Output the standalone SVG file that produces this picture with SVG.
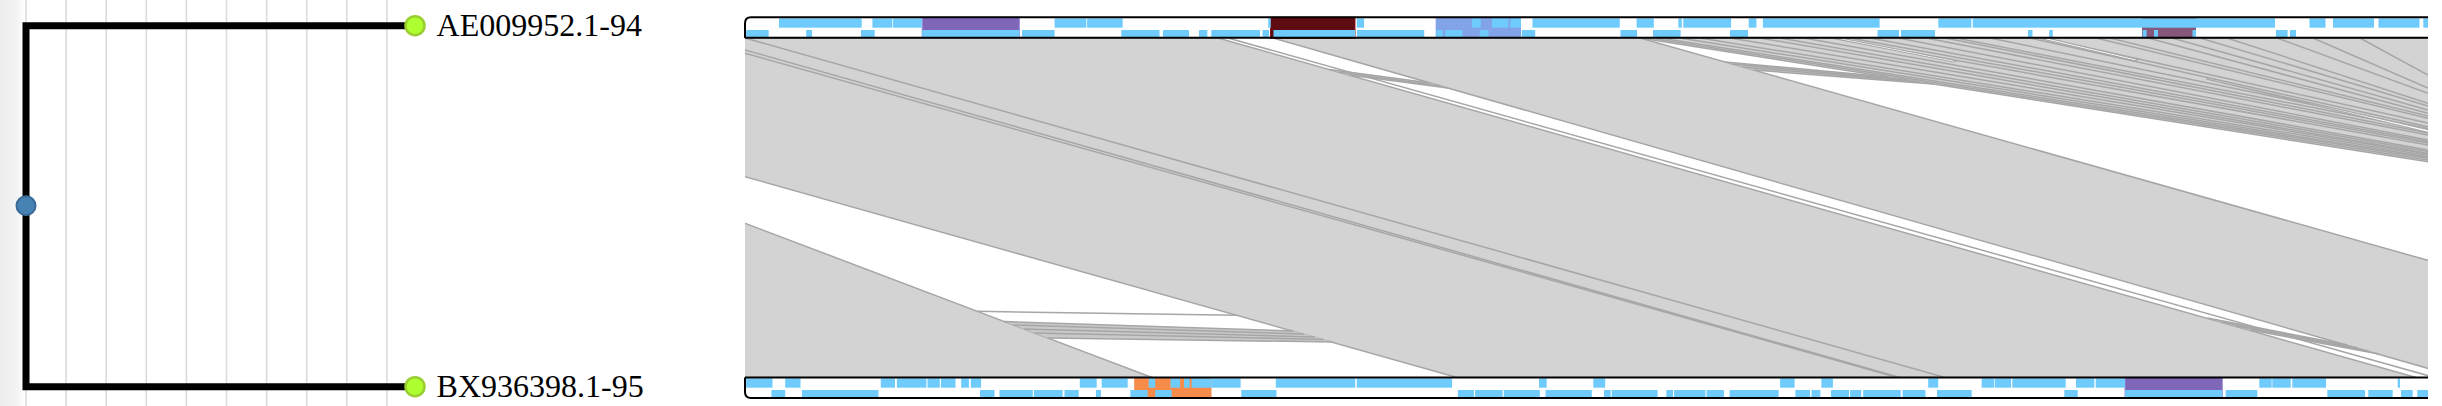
<svg xmlns="http://www.w3.org/2000/svg" width="2442" height="406" viewBox="0 0 2442 406">
<defs>
<style>
.grid{stroke:#dcdcdc;stroke-width:1.6}
.branch{fill:none;stroke:#000;stroke-width:7}
.leaf{fill:#adff2f;stroke:#9acd32;stroke-width:2.5}
.root{fill:#4682b4;stroke:#3a6b96;stroke-width:2}
.label{font-family:"Liberation Serif","Times New Roman",serif;font-size:32px;fill:#000}
.link{fill:#d3d3d3;stroke:#a6a6a6;stroke-width:1.5}
.fill{fill:#c9c9c9;stroke:none}
.edge{fill:none;stroke:#a6a6a6;stroke-width:1.5}
.gap{fill:#fff;stroke:#a6a6a6;stroke-width:1.2}
.gene{fill:#6ecbfc}
.track{fill:none;stroke:#000;stroke-width:2}
</style>
<linearGradient id="shade" x1="0" x2="1" y1="0" y2="0">
<stop offset="0" stop-color="#ececec"/><stop offset="0.75" stop-color="#f4f4f4"/><stop offset="1" stop-color="#ffffff"/>
</linearGradient>
<clipPath id="plot"><rect x="745" y="38" width="1683" height="339.5"/></clipPath>
</defs>
<rect x="0" y="0" width="2442" height="406" fill="#fff"/>
<g id="tree-grid">
<rect x="0" y="0" width="24" height="406" fill="url(#shade)"/>
<line class="grid" x1="26" y1="0" x2="26" y2="406"/>
<line class="grid" x1="66.1" y1="0" x2="66.1" y2="406"/>
<line class="grid" x1="106.2" y1="0" x2="106.2" y2="406"/>
<line class="grid" x1="146.3" y1="0" x2="146.3" y2="406"/>
<line class="grid" x1="186.4" y1="0" x2="186.4" y2="406"/>
<line class="grid" x1="226.5" y1="0" x2="226.5" y2="406"/>
<line class="grid" x1="266.6" y1="0" x2="266.6" y2="406"/>
<line class="grid" x1="306.7" y1="0" x2="306.7" y2="406"/>
<line class="grid" x1="346.8" y1="0" x2="346.8" y2="406"/>
<line class="grid" x1="386.9" y1="0" x2="386.9" y2="406"/>
</g>
<g id="connectors">
<path class="branch" d="M415,25.7 H26 V386.7 H415"/>
</g>
<g id="node-root"><circle class="root" cx="26" cy="205.7" r="9.5"/></g>
<g id="node-AE009952.1-94"><circle class="leaf" cx="415" cy="25.7" r="9.5"/><text class="label" x="436.6" y="35.5">AE009952.1-94</text></g>
<g id="node-BX936398.1-95"><circle class="leaf" cx="415" cy="386.7" r="9.5"/><text class="label" x="436.6" y="396.5">BX936398.1-95</text></g>

<g id="links" clip-path="url(#plot)">
<polygon class="link" points="-2000,38 256,38 1152,377.5 -1000,377.5"/>
<polygon class="link" points="253,38 1218,38 2416,377.5 1457,377.5"/>
<polygon class="link" points="1273,38 1640,38 2843,377.5 2460,377.5"/>
<polygon class="link" points="1640,38 2440,38 2440,163.6"/>
<line class="edge" x1="745" y1="38" x2="1945" y2="377.5"/>
<line class="edge" x1="703" y1="38" x2="1900" y2="377.5"/>
<line class="edge" x1="691" y1="38" x2="1897" y2="377.5"/>
<line class="edge" x1="1228" y1="38" x2="2434.7" y2="377.5"/>
<g id="fan">
<line class="edge" x1="1650" y1="38" x2="2428" y2="160"/>
<line class="edge" x1="1660" y1="38" x2="2428" y2="158.3"/>
<line class="edge" x1="1680" y1="38" x2="2428" y2="157"/>
<line class="edge" x1="1700" y1="38" x2="2428" y2="155.5"/>
<line class="edge" x1="1730" y1="38" x2="2428" y2="154"/>
<line class="edge" x1="1760" y1="38" x2="2428" y2="153.3"/>
<line class="edge" x1="1780" y1="38" x2="2428" y2="151.5"/>
<line class="edge" x1="1804" y1="38" x2="2428" y2="150"/>
<line class="edge" x1="1832" y1="38" x2="2428" y2="145"/>
<line class="edge" x1="1850" y1="38" x2="2428" y2="143"/>
<line class="edge" x1="1870" y1="38" x2="2428" y2="141.5"/>
<line class="edge" x1="1898" y1="38" x2="2428" y2="140"/>
<line class="edge" x1="1926" y1="38" x2="2428" y2="135"/>
<line class="edge" x1="1945" y1="38" x2="2428" y2="133"/>
<line class="edge" x1="1956" y1="38" x2="2428" y2="130"/>
<line class="edge" x1="1990" y1="38" x2="2428" y2="128.5"/>
<line class="edge" x1="2030" y1="38" x2="2428" y2="126.7"/>
<line class="edge" x1="2044" y1="38" x2="2428" y2="123"/>
<line class="edge" x1="2096" y1="38" x2="2428" y2="118.3"/>
<line class="edge" x1="2110" y1="38" x2="2428" y2="116"/>
<line class="edge" x1="2148" y1="38" x2="2428" y2="113.3"/>
<line class="edge" x1="2172" y1="38" x2="2428" y2="110"/>
<line class="edge" x1="2200" y1="38" x2="2428" y2="106"/>
<line class="edge" x1="2227" y1="38" x2="2428" y2="103.3"/>
<line class="edge" x1="2277" y1="38" x2="2428" y2="93.3"/>
<line class="edge" x1="2313" y1="38" x2="2428" y2="88"/>
<line class="edge" x1="2360" y1="38" x2="2428" y2="75"/>
<polygon class="gap" points="1834,38.5 1843,38.5 1957,61 1953,62"/>
<polygon class="gap" points="2040,38.5 2049,38.5 2138,59.5 2135,60.8"/>
<polygon class="gap" points="2206,79 2430,130 2430,132.8"/>
</g>
<g id="streaks">
<polygon class="fill" points="1004.2,321.5 1293.6,331 1332.7,342 1047.7,338"/>
<line class="edge" x1="977" y1="311.3" x2="1237" y2="315.2"/>
<line class="edge" x1="1004.2" y1="321.5" x2="1293.6" y2="331"/>
<line class="edge" x1="1013.4" y1="325" x2="1304.2" y2="334"/>
<line class="edge" x1="1024" y1="329" x2="1314.9" y2="337"/>
<line class="edge" x1="1034.5" y1="333" x2="1323.8" y2="339.5"/>
<line class="edge" x1="1047.7" y1="338" x2="1332.7" y2="342"/>
<polygon class="fill" points="1329.3,69.5 1430.5,83 1448,88 1348.8,75"/>
<line class="edge" x1="1329.3" y1="69.5" x2="1430.5" y2="83"/>
<line class="edge" x1="1338.2" y1="72" x2="1441" y2="86"/>
<line class="edge" x1="1348.8" y1="75" x2="1448" y2="88"/>
<polygon class="fill" points="1725,62 1888.4,77 1933,84 1753.4,70"/>
<line class="edge" x1="1725" y1="62" x2="1888.4" y2="77"/>
<line class="edge" x1="1732" y1="64" x2="1907.5" y2="80"/>
<line class="edge" x1="1742.7" y1="67" x2="1920" y2="82"/>
<line class="edge" x1="1753.4" y1="70" x2="1933" y2="84"/>
<polygon class="fill" points="2207.5,318 2347.5,345 2379,354 2250,330"/>
<line class="edge" x1="2207.5" y1="318" x2="2347.5" y2="345"/>
<line class="edge" x1="2221.7" y1="322" x2="2358" y2="348"/>
<line class="edge" x1="2235.8" y1="326" x2="2368.5" y2="351"/>
<line class="edge" x1="2250" y1="330" x2="2379" y2="354"/>
</g>
</g>

<g id="track-AE009952.1-94">
<rect x="922.2" y="17.3" width="97.2" height="21" fill="#7f66b9" stroke="#9c89d6" stroke-width="1"/>
<rect x="1270.5" y="17.3" width="84.5" height="21" fill="#5e0b11" stroke="#8a1a1a" stroke-width="1"/>
<rect x="1435.7" y="17.3" width="85.3" height="21" fill="#82a3e8"/>
<rect x="2142" y="17.3" width="54" height="21" fill="#87567b"/>
<rect class="gene" x="779" y="18.3" width="82.7" height="9.4"/>
<rect class="gene" x="872.4" y="18.3" width="19.9" height="9.4"/>
<rect class="gene" x="893.1" y="18.3" width="28.7" height="9.4"/>
<rect class="gene" x="1054.6" y="18.3" width="31.7" height="9.4"/>
<rect class="gene" x="1087.1" y="18.3" width="35.6" height="9.4"/>
<rect class="gene" x="1268.2" y="18.3" width="2.6" height="9.4"/>
<rect class="gene" x="1356.8" y="18.3" width="7.3" height="9.4"/>
<rect class="gene" x="1472" y="18.3" width="8.8" height="9.4"/>
<rect class="gene" x="1492" y="18.3" width="16.4" height="9.4"/>
<rect class="gene" x="1510.3" y="18.3" width="10.7" height="9.4"/>
<rect class="gene" x="1532.5" y="18.3" width="87.3" height="9.4"/>
<rect class="gene" x="1636.6" y="18.3" width="17.2" height="9.4"/>
<rect class="gene" x="1678.3" y="18.3" width="3.5" height="9.4"/>
<rect class="gene" x="1683.3" y="18.3" width="47.8" height="9.4"/>
<rect class="gene" x="1748.7" y="18.3" width="7.7" height="9.4"/>
<rect class="gene" x="1762.9" y="18.3" width="116.7" height="9.4"/>
<rect class="gene" x="1938.3" y="18.3" width="33.1" height="9.4"/>
<rect class="gene" x="1972.8" y="18.3" width="302.2" height="9.4"/>
<rect class="gene" x="2309.5" y="18.3" width="16" height="9.4"/>
<rect class="gene" x="2333" y="18.3" width="41" height="9.4"/>
<rect class="gene" x="2378.5" y="18.3" width="41" height="9.4"/>
<rect class="gene" x="2423.3" y="18.3" width="4.7" height="9.4"/>
<rect class="gene" x="746.1" y="30" width="22.6" height="7.3"/>
<rect class="gene" x="806.2" y="30" width="5.8" height="7.3"/>
<rect class="gene" x="861" y="30" width="13.7" height="7.3"/>
<rect class="gene" x="922.2" y="30" width="97.2" height="7.3"/>
<rect class="gene" x="1022" y="30" width="32.6" height="7.3"/>
<rect class="gene" x="1121.3" y="30" width="38.2" height="7.3"/>
<rect class="gene" x="1163" y="30" width="26" height="7.3"/>
<rect class="gene" x="1199" y="30" width="8.3" height="7.3"/>
<rect class="gene" x="1211.3" y="30" width="48.7" height="7.3"/>
<rect class="gene" x="1262.5" y="30" width="6.6" height="7.3"/>
<rect class="gene" x="1273.5" y="30" width="81.5" height="7.3"/>
<rect class="gene" x="1357" y="30" width="67.2" height="7.3"/>
<rect class="gene" x="1436.4" y="30" width="6.2" height="7.3"/>
<rect class="gene" x="1445.2" y="30" width="17.3" height="7.3"/>
<rect class="gene" x="1479.7" y="30" width="8.8" height="7.3"/>
<rect class="gene" x="1521.8" y="30" width="13.4" height="7.3"/>
<rect class="gene" x="1620.5" y="30" width="16.5" height="7.3"/>
<rect class="gene" x="1653" y="30" width="27.6" height="7.3"/>
<rect class="gene" x="1730" y="30" width="18" height="7.3"/>
<rect class="gene" x="1877.5" y="30" width="21.5" height="7.3"/>
<rect class="gene" x="1901" y="30" width="34" height="7.3"/>
<rect class="gene" x="2028" y="30" width="4.5" height="7.3"/>
<rect class="gene" x="2049.2" y="30" width="3.6" height="7.3"/>
<rect class="gene" x="2142.7" y="30" width="3.9" height="7.3"/>
<rect class="gene" x="2154" y="30" width="4" height="7.3"/>
<rect class="gene" x="2192.5" y="30" width="3.5" height="7.3"/>
<rect class="gene" x="2276" y="30" width="11.6" height="7.3"/>
<rect class="gene" x="2290" y="30" width="6" height="7.3"/>
<path class="track" d="M745,38 V23.3 Q745,17.3 751,17.3 H2428"/>
<path class="track" d="M745,37.8 H2428"/>
</g>

<g id="track-BX936398.1-95">
<rect x="1134.2" y="377.3" width="77.3" height="21" fill="#f78c4a"/>
<rect x="2125" y="377.3" width="97.3" height="21" fill="#7f66b9" stroke="#9c89d6" stroke-width="1"/>
<rect class="gene" x="746.1" y="378.3" width="26.4" height="9.4"/>
<rect class="gene" x="785.2" y="378.3" width="15.3" height="9.4"/>
<rect class="gene" x="880.8" y="378.3" width="14.2" height="9.4"/>
<rect class="gene" x="896.9" y="378.3" width="29.5" height="9.4"/>
<rect class="gene" x="927.5" y="378.3" width="12.3" height="9.4"/>
<rect class="gene" x="941" y="378.3" width="14.5" height="9.4"/>
<rect class="gene" x="961.2" y="378.3" width="7.7" height="9.4"/>
<rect class="gene" x="970.8" y="378.3" width="10.3" height="9.4"/>
<rect class="gene" x="1079.8" y="378.3" width="16.9" height="9.4"/>
<rect class="gene" x="1101.7" y="378.3" width="26" height="9.4"/>
<rect class="gene" x="1148.7" y="378.3" width="6.5" height="9.4"/>
<rect class="gene" x="1170.5" y="378.3" width="9.6" height="9.4"/>
<rect class="gene" x="1184" y="378.3" width="5.7" height="9.4"/>
<rect class="gene" x="1191.6" y="378.3" width="19.9" height="9.4"/>
<rect class="gene" x="1211.5" y="378.3" width="29.1" height="9.4"/>
<rect class="gene" x="1275.8" y="378.3" width="79.5" height="9.4"/>
<rect class="gene" x="1356.8" y="378.3" width="95.3" height="9.4"/>
<rect class="gene" x="1539" y="378.3" width="7.7" height="9.4"/>
<rect class="gene" x="1593.3" y="378.3" width="11.9" height="9.4"/>
<rect class="gene" x="1780.1" y="378.3" width="14.5" height="9.4"/>
<rect class="gene" x="1821.4" y="378.3" width="11.5" height="9.4"/>
<rect class="gene" x="1928.2" y="378.3" width="10" height="9.4"/>
<rect class="gene" x="1981.7" y="378.3" width="12.6" height="9.4"/>
<rect class="gene" x="1995" y="378.3" width="16" height="9.4"/>
<rect class="gene" x="2012.3" y="378.3" width="53.4" height="9.4"/>
<rect class="gene" x="2076" y="378.3" width="18.3" height="9.4"/>
<rect class="gene" x="2095.7" y="378.3" width="29.3" height="9.4"/>
<rect class="gene" x="2259.3" y="378.3" width="12.4" height="9.4"/>
<rect class="gene" x="2272.3" y="378.3" width="18.4" height="9.4"/>
<rect class="gene" x="2292.3" y="378.3" width="33.7" height="9.4"/>
<rect class="gene" x="2397.7" y="378.3" width="2.3" height="9.4"/>
<rect class="gene" x="771.4" y="390" width="13.8" height="7.5"/>
<rect class="gene" x="802" y="390" width="76.5" height="7.5"/>
<rect class="gene" x="980" y="390" width="14.5" height="7.5"/>
<rect class="gene" x="999.5" y="390" width="33.3" height="7.5"/>
<rect class="gene" x="1033.9" y="390" width="28.7" height="7.5"/>
<rect class="gene" x="1064.5" y="390" width="14.2" height="7.5"/>
<rect class="gene" x="1095.9" y="390" width="5" height="7.5"/>
<rect class="gene" x="1130.4" y="390" width="17.2" height="7.5"/>
<rect class="gene" x="1155.2" y="390" width="16.5" height="7.5"/>
<rect class="gene" x="1241.3" y="390" width="35.2" height="7.5"/>
<rect class="gene" x="1457.9" y="390" width="16" height="7.5"/>
<rect class="gene" x="1475.1" y="390" width="27.5" height="7.5"/>
<rect class="gene" x="1503.8" y="390" width="36" height="7.5"/>
<rect class="gene" x="1545.5" y="390" width="46.3" height="7.5"/>
<rect class="gene" x="1604" y="390" width="6.6" height="7.5"/>
<rect class="gene" x="1611.7" y="390" width="45.9" height="7.5"/>
<rect class="gene" x="1666.4" y="390" width="6.6" height="7.5"/>
<rect class="gene" x="1674.1" y="390" width="31.4" height="7.5"/>
<rect class="gene" x="1706.6" y="390" width="17.3" height="7.5"/>
<rect class="gene" x="1729.6" y="390" width="49" height="7.5"/>
<rect class="gene" x="1795.4" y="390" width="14.6" height="7.5"/>
<rect class="gene" x="1811.5" y="390" width="8.8" height="7.5"/>
<rect class="gene" x="1831" y="390" width="18" height="7.5"/>
<rect class="gene" x="1850.1" y="390" width="11.1" height="7.5"/>
<rect class="gene" x="1863.2" y="390" width="37.5" height="7.5"/>
<rect class="gene" x="1902.6" y="390" width="22.9" height="7.5"/>
<rect class="gene" x="1937" y="390" width="34.7" height="7.5"/>
<rect class="gene" x="2064.3" y="390" width="13.4" height="7.5"/>
<rect class="gene" x="2125" y="390" width="97.3" height="7.5"/>
<rect class="gene" x="2225.7" y="390" width="31.6" height="7.5"/>
<rect class="gene" x="2327.3" y="390" width="37.7" height="7.5"/>
<rect class="gene" x="2368.3" y="390" width="24.4" height="7.5"/>
<rect class="gene" x="2401" y="390" width="11.7" height="7.5"/>
<rect class="gene" x="2417.3" y="390" width="10.7" height="7.5"/>
<path class="track" d="M745,377.5 H2428"/>
<path class="track" d="M745,377.5 V392 Q745,398 751,398 H2428"/>
</g>
</svg>
